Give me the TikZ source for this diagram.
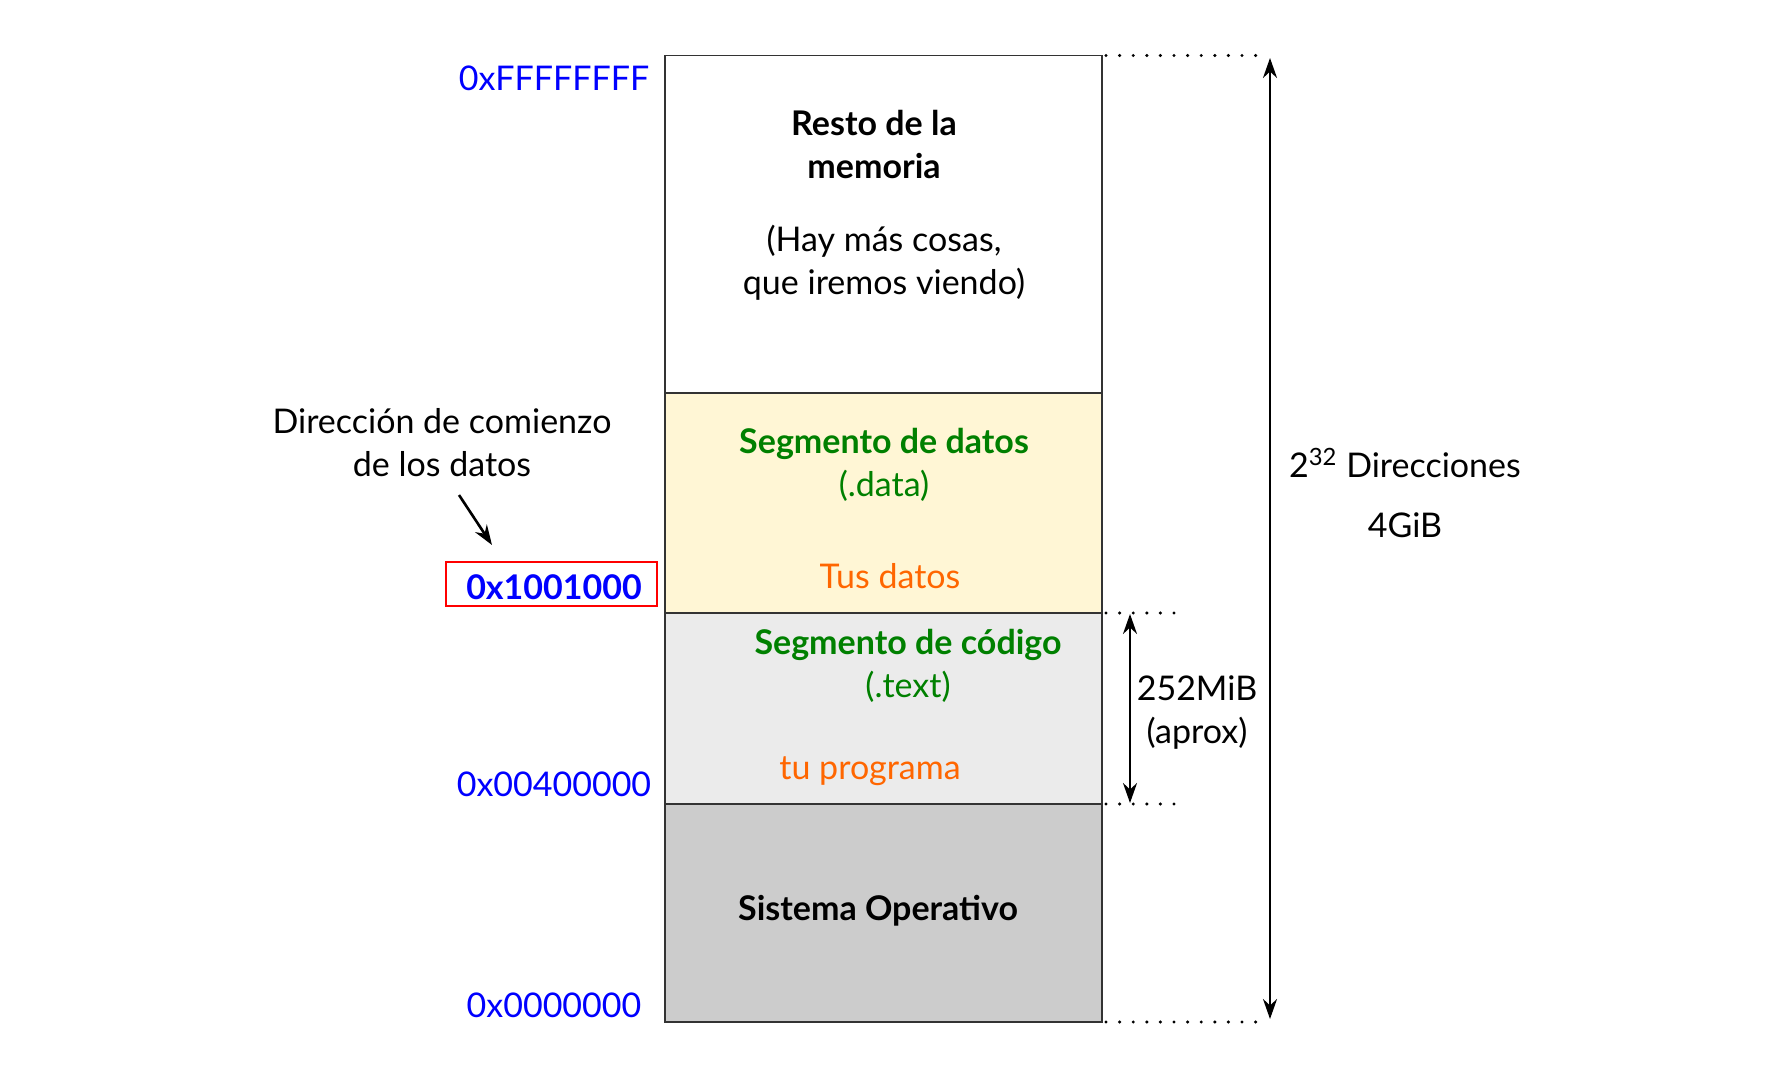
\documentclass[tikz,border=0pt]{standalone}
\usepackage{fontspec}
\setmainfont{Lato}
\usetikzlibrary{arrows.meta,positioning}
\definecolor{addrblue}{HTML}{0000FF}
\definecolor{seggreen}{HTML}{008000}
\definecolor{usrorange}{HTML}{FF6600}
\definecolor{datafill}{HTML}{FFF6D5}
\definecolor{codefill}{HTML}{EBEBEB}
\definecolor{osfill}{HTML}{CCCCCC}
\definecolor{edgegray}{HTML}{333333}

\tikzset{
    txt/.style={inner sep=0, align=center, font=\fontsize{17}{21.5}\selectfont},
    bold/.style={txt, font=\fontsize{17}{21.5}\selectfont\bfseries},
    addr/.style={txt, text=addrblue},
    segname/.style={bold, text=seggreen},
    segsub/.style={txt, text=seggreen},
    user/.style={txt, text=usrorange},
    seg/.style={draw=edgegray, line width=0.9pt},
    guide/.style={line width=1.7pt, line cap=round, dash pattern=on 0pt off 6.8pt},
    span/.style={line width=1.3pt, {Stealth[length=10pt,width=7pt]}-{Stealth[length=10pt,width=7pt]}},
    pointer/.style={line width=1.3pt, -{Stealth[length=10pt,width=7pt]}},
}

\begin{document}
\begin{tikzpicture}[x=0.5pt, y=-0.5pt]
    \useasboundingbox (0,0) rectangle (1776,1085);

    % memory segments, top to bottom
    \filldraw[seg, fill=white] (665,55.5) rectangle (1102,393);
    \filldraw[seg, fill=datafill] (665,393) rectangle (1102,613);
    \filldraw[seg, fill=codefill] (665,613) rectangle (1102,804);
    \filldraw[seg, fill=osfill] (665,804) rectangle (1102,1022);

    \node[bold] (resto) at (874,145) {Resto de la\\memoria};
    \node[txt] (hay) at (884,263) {(Hay más cosas,\\que iremos viendo)};

    \node[segname] (datos) at (884,444) {Segmento de datos};
    \node[segsub] (datasub) at (884,486) {(.data)};
    \node[user] (tusdatos) at (890,576) {Tus datos};

    \node[segname] (codigo) at (908,645) {Segmento de código};
    \node[segsub] (textsub) at (908,687) {(.text)};
    \node[user] (programa) at (870,771) {tu programa};

    \node[bold] (so) at (878,911) {Sistema Operativo};

    % addresses
    \node[addr] (atop) at (554,78) {0xFFFFFFFF};
    \draw[red, line width=0.7pt] (446,562) rectangle (657,606);
    \node[addr, font=\fontsize{17}{21.5}\selectfont\bfseries] (adata) at (554,587) {0x1001000};
    \node[addr] (atext) at (554,784) {0x00400000};
    \node[addr] (azero) at (554,1005) {0x0000000};

    \node[txt] (note) at (442,443) {Dirección de comienzo\\de los datos};
    \coordinate (ptrstart) at (459,495);
    \coordinate (ptrend) at (492,545);
    \draw[pointer] (ptrstart) -- (ptrend);

    % guides on the right
    \coordinate (top) at (1106,55.5);
    \coordinate (topend) at (1263,55.5);
    \coordinate (bot) at (1106,1022);
    \coordinate (botend) at (1263,1022);
    \coordinate (dtop) at (1106,613);
    \coordinate (dtopend) at (1178,613);
    \coordinate (dbot) at (1106,804);
    \coordinate (dbotend) at (1178,804);
    \draw[guide] (top) -- (topend);
    \draw[guide] (bot) -- (botend);
    \draw[guide] (dtop) -- (dtopend);
    \draw[guide] (dbot) -- (dbotend);

    \coordinate (bigtop) at (1270,58);
    \coordinate (bigbot) at (1270,1019);
    \draw[span] (bigtop) -- (bigbot);
    \coordinate (smalltop) at (1130,614);
    \coordinate (smallbot) at (1130,803);
    \draw[span] (smalltop) -- (smallbot);

    \node[txt] (mib) at (1197,713) {252MiB\\(aprox)};
    \node[txt] (dir) at (1405,463) {2\textsuperscript{32}~Direcciones};
    \node[txt, below=17pt of dir] (gib) {4GiB};
\end{tikzpicture}
\end{document}
